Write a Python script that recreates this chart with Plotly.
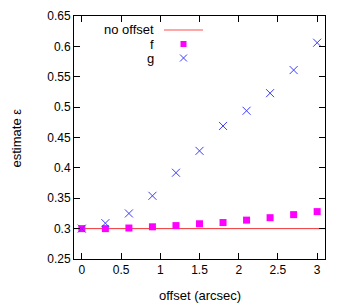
import plotly.graph_objects as go

offset = [0, 0.3, 0.6, 0.9, 1.2, 1.5, 1.8, 2.1, 2.4, 2.7, 3.0]
f_vals = [0.300, 0.300, 0.301, 0.303, 0.305, 0.308, 0.310, 0.314, 0.318, 0.323, 0.328]
g_vals = [0.300, 0.309, 0.325, 0.354, 0.392, 0.428, 0.469, 0.494, 0.523, 0.561, 0.606]
no_offset = 0.3
legend_labels = ["no offset", "f", "g"]
x_ticks = [0, 0.5, 1, 1.5, 2, 2.5, 3]
y_ticks = [0.25, 0.3, 0.35, 0.4, 0.45, 0.5, 0.55, 0.6, 0.65]

FONT = "Liberation Sans, Arial, sans-serif"
RED = "#ee3333"
MAG = "#ff00ff"
BLUE = "#3b3bff"

# page has an 8px body margin; work in page pixels and convert
OFF = 8
W, H = 341, 297
PX0, PX1, PY0, PY1 = 74, 325, 16, 259   # plot area in page pixels
L, T = PX0 - OFF, PY0 - OFF
PW, PH = PX1 - PX0, PY1 - PY0
R, B = W - L - PW, H - T - PH


def px(x):
    return (x - PX0) / PW


def py(y):
    return 1 - (y - PY0) / PH


fig = go.Figure()
fig.add_trace(go.Scatter(x=[-0.1, 3.1], y=[no_offset, no_offset], mode="lines",
                         line=dict(color=RED, width=1), showlegend=False))
fig.add_trace(go.Scatter(x=offset, y=f_vals, mode="markers",
                         marker=dict(symbol="square", size=7, color=MAG), showlegend=False))
fig.add_trace(go.Scatter(x=offset, y=g_vals, mode="markers",
                         marker=dict(symbol="x-thin-open", size=8, color=BLUE,
                                     line=dict(width=1, color=BLUE)), showlegend=False))

# custom legend (gnuplot style: text right-aligned, key to the right)
leg_px = [30, 44, 58]
leg_y = [py(p) for p in leg_px]
fig.add_trace(go.Scatter(x=[px(164), px(203)], y=[leg_y[0], leg_y[0]],
                         xaxis="x2", yaxis="y2",
                         mode="lines", line=dict(color="rgba(255,60,60,0.45)", width=2),
                         showlegend=False, hoverinfo="skip"))
fig.add_trace(go.Scatter(x=[px(183.5)], y=[leg_y[1]], xaxis="x2", yaxis="y2", mode="markers",
                         marker=dict(symbol="square", size=6, color=MAG),
                         showlegend=False, hoverinfo="skip"))
fig.add_trace(go.Scatter(x=[px(183.5)], y=[leg_y[2]], xaxis="x2", yaxis="y2", mode="markers",
                         marker=dict(symbol="x-thin-open", size=7, color=BLUE,
                                     line=dict(width=1, color=BLUE)),
                         showlegend=False, hoverinfo="skip"))
for lab, yy in zip(legend_labels, leg_y):
    fig.add_annotation(x=px(156), y=yy, xref="paper", yref="paper", text=lab,
                       showarrow=False, xanchor="right", yanchor="middle",
                       font=dict(family=FONT, size=13, color="black"))

# axis titles
fig.add_annotation(x=px(199.5), y=py(295), xref="paper", yref="paper",
                   text="offset (arcsec)", showarrow=False, xanchor="center", yanchor="middle",
                   font=dict(family=FONT, size=13, color="black"))
fig.add_annotation(x=px(15.5), y=py(138), xref="paper", yref="paper",
                   text="estimate ε", showarrow=False, textangle=-90,
                   xanchor="center", yanchor="middle",
                   font=dict(family=FONT, size=13, color="black"))

axis_common = dict(showgrid=False, zeroline=False, showline=True, linecolor="black",
                   linewidth=1, mirror="ticks", ticks="inside", ticklen=6,
                   tickcolor="black", automargin=False,
                   tickfont=dict(family=FONT, size=12, color="black"))

fig.update_layout(
    template="none",
    width=W, height=H,
    margin=dict(l=L, r=R, t=T, b=B),
    plot_bgcolor="white", paper_bgcolor="white",
    font=dict(family=FONT, size=12, color="black"),
    xaxis=dict(range=[-0.1, 3.1], tickvals=x_ticks,
               ticktext=[f"{v:g}" for v in x_ticks], **axis_common),
    yaxis=dict(range=[0.25, 0.65], tickvals=y_ticks,
               ticktext=[f"{v:g}" for v in y_ticks], **axis_common),
    xaxis2=dict(range=[0, 1], overlaying="x", visible=False, fixedrange=True),
    yaxis2=dict(range=[0, 1], overlaying="y", visible=False, fixedrange=True),
    showlegend=False,
)

fig.write_html("out.html")
